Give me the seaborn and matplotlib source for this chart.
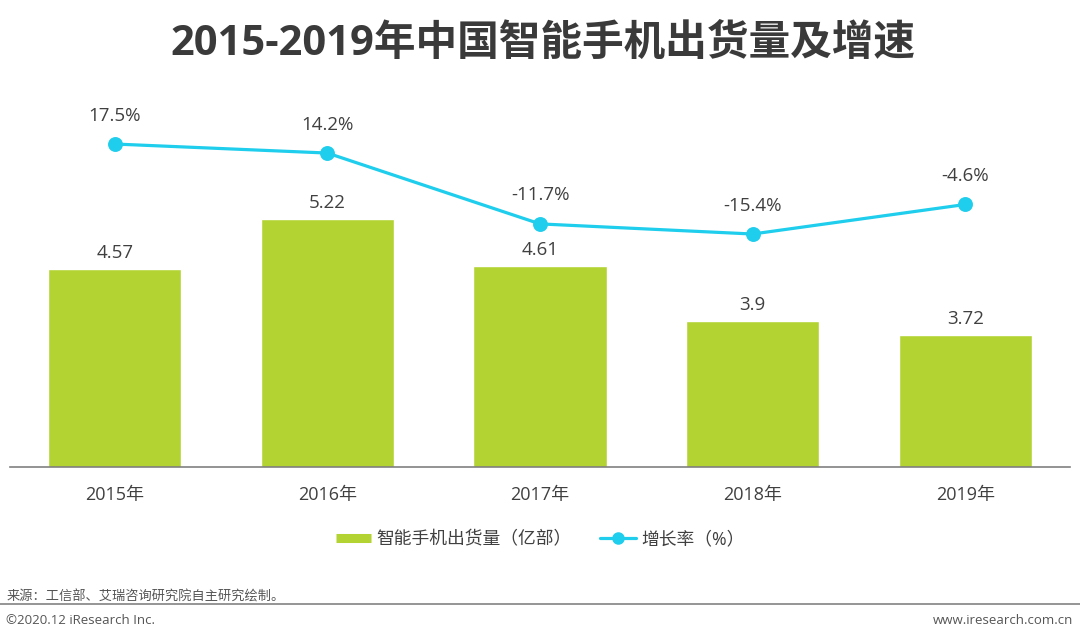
import matplotlib
matplotlib.use("Agg")
import matplotlib.pyplot as plt
import seaborn as sns
from matplotlib.lines import Line2D

years = ["2015年", "2016年", "2017年", "2018年", "2019年"]
shipments = [4.57, 5.22, 4.61, 3.9, 3.72]
growth = [17.5, 14.2, -11.7, -15.4, -4.6]
growth_labels = ["17.5%", "14.2%", "-11.7%", "-15.4%", "-4.6%"]

TITLE = "2015-2019年中国智能手机出货量及增速"
BAR_NAME = "智能手机出货量（亿部）"
LINE_NAME = "增长率（%）"
SOURCE = "来源：工信部、艾瑞咨询研究院自主研究绘制。"

GREEN = "#b3d332"
CYAN = "#1fcdec"
TEXT = "#404040"

sns.set_theme(style="white")
plt.rcParams["font.family"] = ["Open Sans", "Noto Sans CJK SC", "DejaVu Sans"]

fig = plt.figure(figsize=(10.8, 6.4), dpi=100)
ax = fig.add_axes([0.009, 0.2703, 0.982, 0.5734])

sns.barplot(x=years, y=shipments, color=GREEN, width=0.626, saturation=1, ax=ax)
ax.set_ylim(2.013, 6.76)
ax.set_xlim(-0.494, 4.494)
for i, v in enumerate(shipments):
    ax.annotate(f"{v:g}", (i, v), xytext=(0, 5), textcoords="offset points",
                ha="center", va="bottom", fontsize=13.5, color=TEXT)

ax2 = ax.twinx()
sns.pointplot(x=years, y=growth, color=CYAN, markers="o", markersize=9,
              linewidth=2.3, ax=ax2)
ax2.set_ylim(-100.57, 33.58)
ax2.set_xlim(-0.494, 4.494)
for i, (v, lab) in enumerate(zip(growth, growth_labels)):
    ax2.annotate(lab, (i, v), xytext=(0, 14), textcoords="offset points",
                 ha="center", va="bottom", fontsize=13.5, color=TEXT)

for a in (ax, ax2):
    a.set_yticks([])
    a.set_ylabel("")
    a.set_xlabel("")
    for s in ("top", "left", "right", "bottom"):
        a.spines[s].set_visible(False)
ax.spines["bottom"].set_visible(True)
ax.spines["bottom"].set_color("#808080")
ax.spines["bottom"].set_linewidth(1.2)
ax.tick_params(axis="x", length=0, pad=14, labelsize=13, labelcolor=TEXT)

handles = [
    Line2D([], [], color=GREEN, lw=6.5, solid_capstyle="butt"),
    Line2D([], [], color=CYAN, lw=2.3, marker="o", markersize=8),
]
fig.legend(handles, [BAR_NAME, LINE_NAME], loc="center", bbox_to_anchor=(0.5, 0.157),
           ncol=2, frameon=False, fontsize=12.8, handlelength=2.0, handletextpad=0.3,
           columnspacing=1.6, labelcolor=TEXT)

fig.text(0.503, 0.931, TITLE, ha="center", va="center", fontsize=30,
         fontweight="bold", color="#3a3a3a")

fig.add_artist(Line2D([0, 1], [1 - 604 / 640, 1 - 604 / 640], color="#8c8c8c", lw=1.3))
fig.text(0.006, 1 - 597 / 640, SOURCE, ha="left", va="center", fontsize=9.5,
         color="#555555", family=["Noto Sans CJK SC", "DejaVu Sans"])
fig.text(0.006, 1 - 620 / 640, "©2020.12 iResearch Inc.", ha="left", va="center",
         fontsize=9.5, color="#555555")
fig.text(0.994, 1 - 620 / 640, "www.iresearch.com.cn", ha="right", va="center",
         fontsize=9.5, color="#555555")

fig.savefig("out.png", dpi=100)
